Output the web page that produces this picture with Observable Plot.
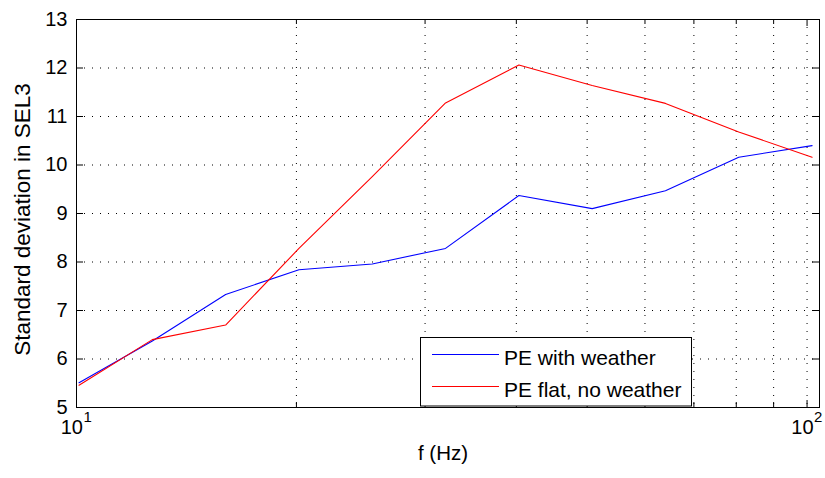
<!DOCTYPE html>
<html>
<head>
<meta charset="utf-8">
<script src="https://cdn.jsdelivr.net/npm/d3@7"></script>
<script src="https://cdn.jsdelivr.net/npm/@observablehq/plot@0.6"></script>
<style>
  html, body { margin: 0; padding: 0; background: #fff; }
  #chart { position: relative; width: 825px; height: 478px; font-family: "Liberation Sans", Arial, sans-serif; }
  #legend { position: absolute; left: 0; top: 0; pointer-events: none; }
</style>
</head>
<body>
<div id="chart"></div>
<script>
// Third-octave band centre frequencies (Hz)
const freq = [10.08, 12.7, 16, 20.16, 25.4, 32, 40.32, 50.8, 64, 80.63, 101.6];
// Standard deviation in SEL3 for each model
const withWeather   = [5.51, 6.37, 7.33, 7.84, 7.96, 8.28, 9.37, 9.10, 9.47, 10.16, 10.40];
const flatNoWeather = [5.46, 6.40, 6.70, 8.28, 9.76, 11.28, 12.06, 11.64, 11.27, 10.68, 10.16];
const seriesNames = ["PE with weather", "PE flat, no weather"];
const seriesColors = ["#0000ff", "#ff0000"];

// Axis ticks
const yTicks = [5, 6, 7, 8, 9, 10, 11, 12, 13];
const yGrid = [6, 7, 8, 9, 10, 11, 12];
const xMajor = [10, 100];
const xMinor = [20, 30, 40, 50, 60, 70, 80, 90];
const xGrid = [20, 30, 40, 50, 60, 70, 80, 90, 100];

const rows = [
  ...freq.map((f, i) => ({f, v: withWeather[i], s: seriesNames[0]})),
  ...freq.map((f, i) => ({f, v: flatNoWeather[i], s: seriesNames[1]}))
];

const W = 825, H = 478;
const mL = 76, mR = 6, mT = 19, mB = 71;
const pw = W - mL - mR, ph = H - mT - mB;
const majorLen = 7, minorLen = 5;
const ink = "#000";

const chart = Plot.plot({
  width: W, height: H,
  marginLeft: mL, marginRight: mR, marginTop: mT, marginBottom: mB,
  style: {fontFamily: "'Liberation Sans', Arial, sans-serif", fontSize: "20px", color: ink, background: "#fff", overflow: "visible"},
  x: {type: "log", domain: [10, 104], axis: null},
  y: {domain: [5, 13], axis: null},
  color: {domain: seriesNames, range: seriesColors},
  marks: [
    // dotted grid
    Plot.ruleY(yGrid, {y: d => d, stroke: ink, strokeDasharray: "1,7", strokeWidth: 1}),
    Plot.ruleX(xGrid, {x: d => d, stroke: ink, strokeDasharray: "1,7", strokeWidth: 1}),
    // data
    Plot.line(rows, {x: "f", y: "v", z: "s", stroke: "s", strokeWidth: 1.1}),
    // inward ticks on all four sides
    Plot.tickY(yTicks, {y: d => d, stroke: ink, insetRight: pw - majorLen}),
    Plot.tickY(yTicks, {y: d => d, stroke: ink, insetLeft: pw - majorLen}),
    Plot.tickX(xMajor, {x: d => d, stroke: ink, insetTop: ph - majorLen}),
    Plot.tickX(xMajor, {x: d => d, stroke: ink, insetBottom: ph - majorLen}),
    Plot.tickX(xMinor, {x: d => d, stroke: ink, insetTop: ph - minorLen}),
    Plot.tickX(xMinor, {x: d => d, stroke: ink, insetBottom: ph - minorLen}),
    Plot.frame({stroke: ink, strokeWidth: 1}),
    // y tick labels
    Plot.axisY({ticks: yTicks, tickSize: 0, tickPadding: 9, label: null, fontSize: 20, fill: ink}),
    // x tick labels as powers of ten
    Plot.text(xMajor, {x: d => d, frameAnchor: "bottom", text: () => "10", textAnchor: "end", dx: 6.5, dy: 26, fontSize: 20, fill: ink}),
    Plot.text(xMajor, {x: d => d, frameAnchor: "bottom", text: d => String(Math.round(Math.log10(d))), textAnchor: "start", dx: 7, dy: 14, fontSize: 15, fill: ink}),
    // axis titles
    Plot.text(["f (Hz)"], {frameAnchor: "bottom", text: d => d, textAnchor: "middle", dy: 52, dx: -5, fontSize: 20.5, fill: ink}),
    Plot.text(["Standard deviation in SEL3"], {frameAnchor: "left", text: d => d, textAnchor: "middle", rotate: -90, dx: -53.5, dy: 6, fontSize: 22.5, fill: ink})
  ]
});

const root = document.getElementById("chart");
root.appendChild(chart);

// Legend box drawn over the lower middle of the axes
const lg = d3.select(root).append("svg")
  .attr("id", "legend")
  .attr("width", W).attr("height", H);
const box = {x: 420.5, y: 337.5, w: 271, h: 68.5};
lg.append("rect")
  .attr("x", box.x).attr("y", box.y).attr("width", box.w).attr("height", box.h)
  .attr("fill", "#fff").attr("stroke", ink).attr("stroke-width", 1);
const rowY = [354.5, 386.5];
seriesNames.forEach((name, i) => {
  lg.append("line")
    .attr("x1", 432).attr("x2", 499).attr("y1", rowY[i]).attr("y2", rowY[i])
    .attr("stroke", seriesColors[i]).attr("stroke-width", 1.1);
  lg.append("text")
    .attr("x", 504).attr("y", rowY[i] + 10.5)
    .attr("font-family", "'Liberation Sans', Arial, sans-serif")
    .attr("font-size", 21).attr("fill", ink)
    .text(name);
});
</script>
</body>
</html>
